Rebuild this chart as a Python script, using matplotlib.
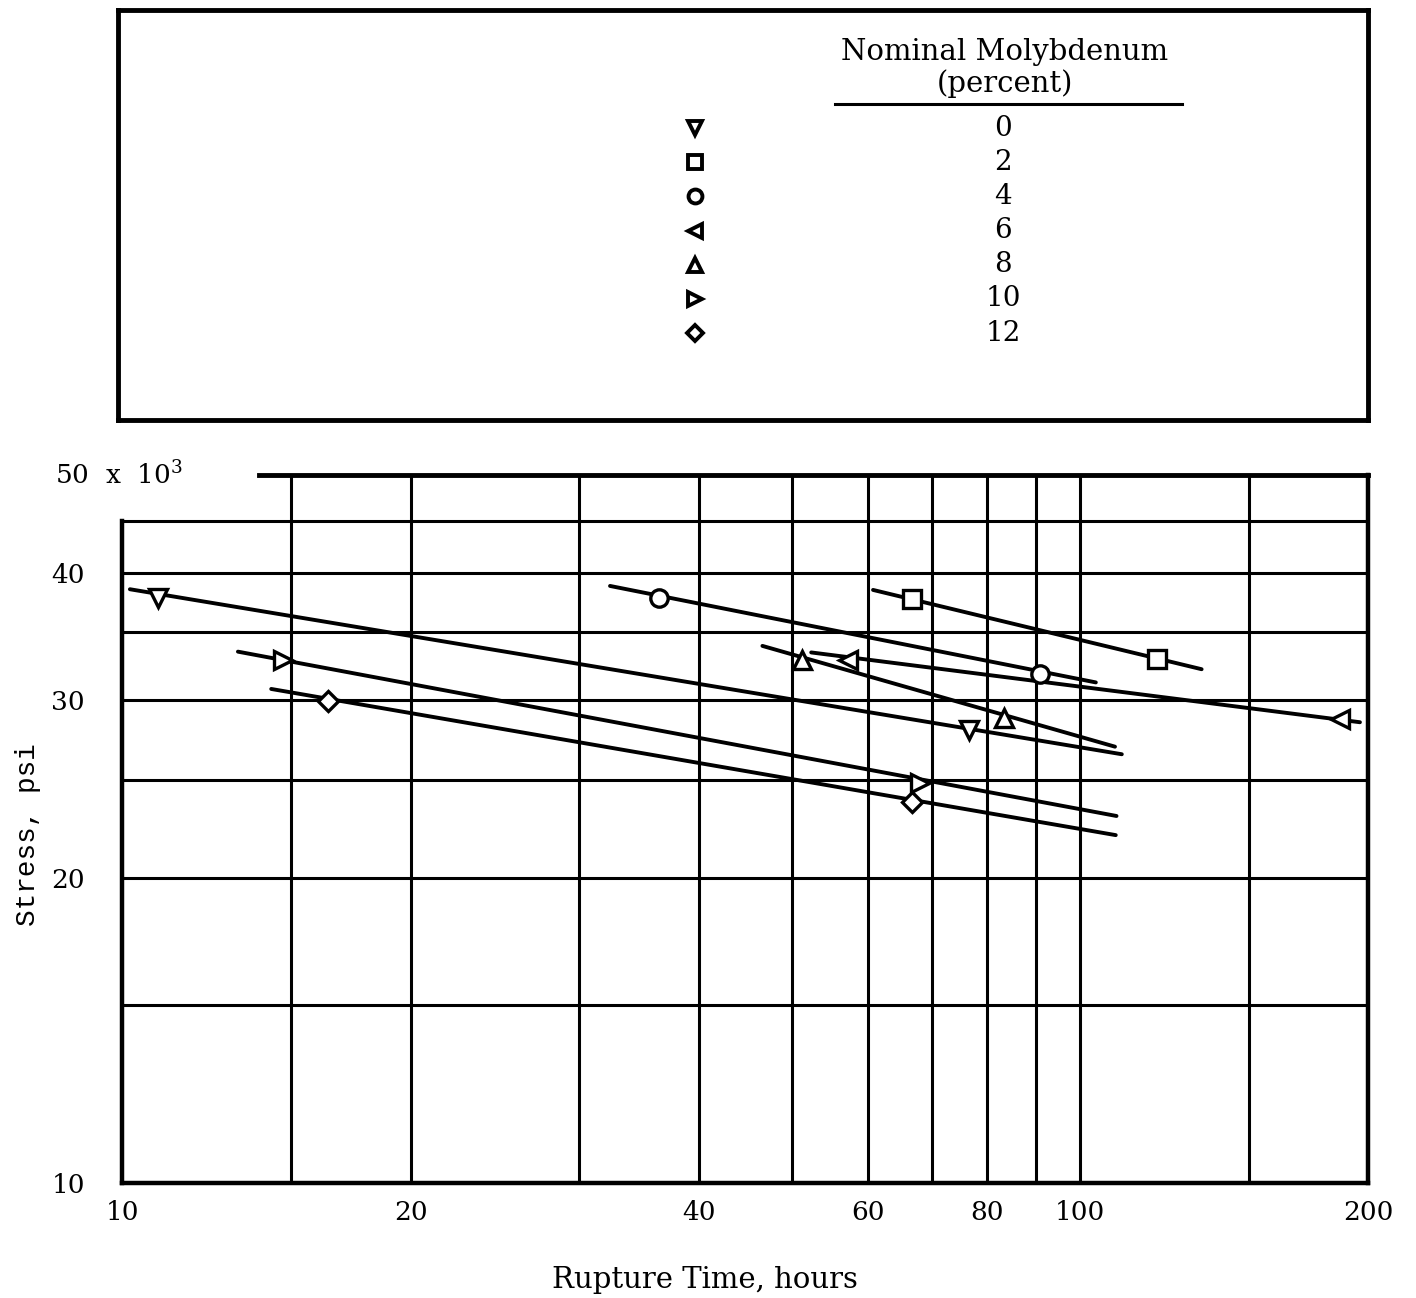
import numpy as np
import matplotlib.pyplot as plt
from matplotlib import transforms
from matplotlib.ticker import NullLocator, NullFormatter

plt.rcParams['font.family'] = ['DejaVu Serif']
plt.rcParams['mathtext.fontset'] = 'dejavuserif'

# nominal molybdenum content (percent) and its marker
molybdenum = [0, 2, 4, 6, 8, 10, 12]
markers = ['v', 's', 'o', '<', '^', '>', 'D']

# test points: rupture time (hours) and stress (1000 psi)
times = [[10.9, 76.6], [66.7, 120.4], [36.3, 90.8], [57.3, 186.9],
         [51.2, 83.3], [14.7, 68.1], [16.4, 66.7]]
stresses = [[37.8, 28.0], [37.7, 32.9], [37.8, 31.8], [32.8, 28.7],
            [32.8, 28.8], [32.8, 24.8], [29.9, 23.8]]

# faired lines (ends)
line_times = [[10.18, 110.6], [60.8, 134.0], [32.3, 103.9], [52.4, 196.1],
              [46.6, 108.8], [13.2, 109.2], [14.3, 109.0]]
line_stresses = [[38.56, 26.5], [38.5, 32.15], [38.85, 31.2], [33.4, 28.5],
                 [33.9, 26.96], [33.46, 23.03], [30.74, 22.05]]

x_grid = [15, 20, 30, 40, 50, 60, 70, 80, 90, 100, 150]
y_grid = [15, 20, 25, 30, 35, 40, 45]
x_ticks = [10, 20, 40, 60, 80, 100, 200]
y_ticks = [10, 20, 30, 40]

fig = plt.figure(figsize=(14.16, 12.98), dpi=100)
ax = fig.add_axes([0.0865, 0.0886, 0.8797, 0.5455])
ax.set_xscale('log')
ax.set_yscale('log')
ax.set_xlim(10, 200)
ax.set_ylim(10, 50)

# 网格线
for t in x_grid:
    ax.axvline(t, color='black', lw=2.2, zorder=1)
for s in y_grid:
    ax.axhline(s, color='black', lw=2.2, zorder=1)
ax.plot([13.9, 200], [50, 50], color='black', lw=3.5, clip_on=False, zorder=3)

ax.spines['top'].set_visible(False)
ax.spines['left'].set_bounds(10, 45)
for side in ['left', 'right', 'bottom']:
    ax.spines[side].set_linewidth(3.2)

for i in range(len(molybdenum)):
    ax.plot(line_times[i], line_stresses[i], color='black', lw=2.8,
            solid_capstyle='round', zorder=2)
    ms = 10.5 if markers[i] == 'D' else 12.5
    ax.plot(times[i], stresses[i], linestyle='none', marker=markers[i],
            ms=ms, mfc='white', mec='black', mew=2.4, zorder=4)

ax.xaxis.set_minor_locator(NullLocator())
ax.xaxis.set_minor_formatter(NullFormatter())
ax.yaxis.set_minor_locator(NullLocator())
ax.yaxis.set_minor_formatter(NullFormatter())
ax.set_xticks(x_ticks, [str(t) for t in x_ticks])
ax.set_yticks(y_ticks, [str(s) for s in y_ticks])
ax.tick_params(axis='x', length=0, pad=12, labelsize=19)
ax.tick_params(axis='y', length=0, pad=27, labelsize=19)

trans = transforms.blended_transform_factory(ax.transAxes, ax.transData)
ax.text(-0.054, 50, r'50  x  10$^3$', transform=trans, ha='left', va='center',
        fontsize=19)

fig.text(705 / 1416, 1 - 1280 / 1298, 'Rupture Time, hours', ha='center',
         va='center', fontsize=21)
fig.text(28 / 1416, 1 - 835 / 1298, 'Stress, psi', ha='center', va='center',
         rotation=90, fontsize=20, family='Liberation Mono')

# legend box
lax = fig.add_axes([118 / 1416, 1 - 420 / 1298, 1250 / 1416, 410 / 1298])
lax.set_xlim(118, 1368)
lax.set_ylim(420, 10)
lax.set_xticks([])
lax.set_yticks([])
for sp in lax.spines.values():
    sp.set_linewidth(3.5)

lax.text(1005, 52, 'Nominal Molybdenum', ha='center', va='center', fontsize=21)
lax.text(1005, 84, '(percent)', ha='center', va='center', fontsize=21)
lax.plot([835, 1182], [104, 104], color='black', lw=2.2)
for i, m in enumerate(molybdenum):
    y = 128 + 34.2 * i
    ms = 8.5 if markers[i] == 'D' else 10
    lax.plot([695], [y], marker=markers[i], ms=ms, mfc='white', mec='black',
             mew=2.8, linestyle='none')
    lax.text(1003, y, str(m), ha='center', va='center', fontsize=20)

fig.savefig('out.png', dpi=100)
